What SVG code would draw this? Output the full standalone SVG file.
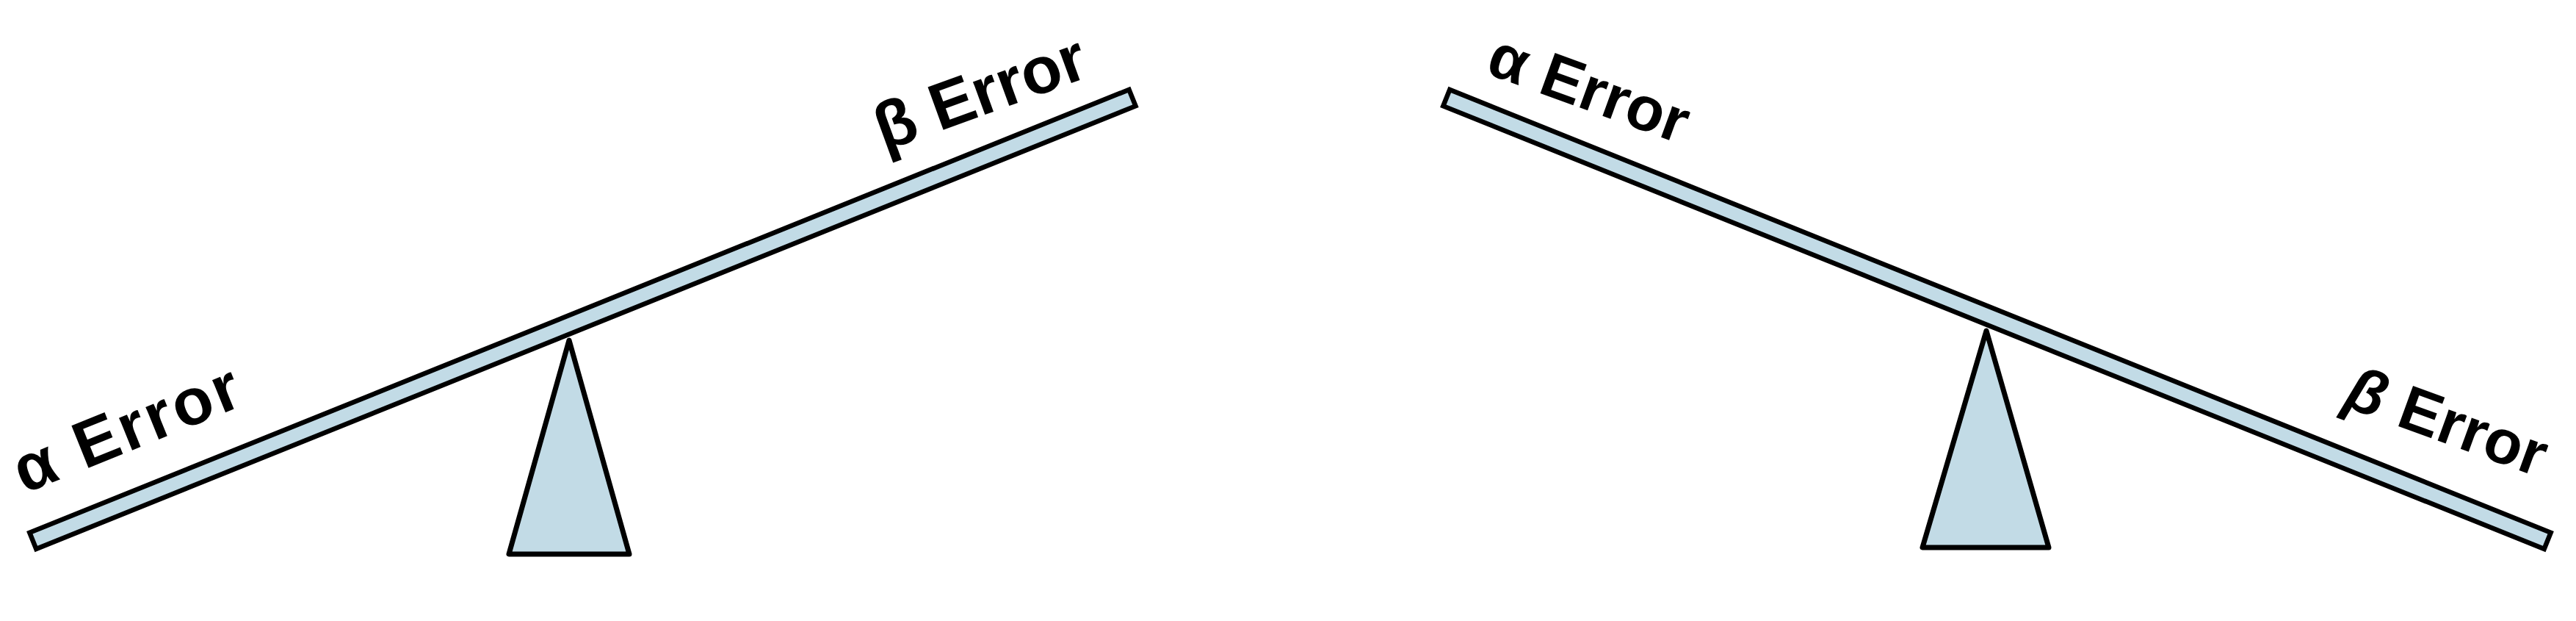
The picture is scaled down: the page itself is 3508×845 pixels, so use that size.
<svg xmlns="http://www.w3.org/2000/svg" width="3508" height="845" viewBox="0 0 3508 845">
  <style>
    .beam { fill: #C2DBE6; stroke: #000; stroke-width: 6.5; stroke-linejoin: miter; }
    .fulcrum { fill: #C2DBE6; stroke: #000; stroke-width: 7; stroke-linejoin: round; }
    .label { font-family: "Liberation Sans", Arial, sans-serif; font-weight: bold; fill: #000; }
    .big { font-size: 90px; }
    .small { font-size: 85px; }
  </style>
  <rect width="3508" height="845" fill="#fff"/>
  <g id="left-seesaw">
    <g id="left-beam">
      <rect class="beam" transform="translate(42,737) rotate(-21.93)" x="3" y="-12" width="1614" height="24"/>
    </g>
    <g id="left-fulcrum">
      <polygon class="fulcrum" points="775,463 693,754 857,754"/>
    </g>
    <g id="left-alpha-label">
      <text class="label big" letter-spacing="4" transform="translate(33,672) rotate(-22)">α Error</text>
    </g>
    <g id="left-beta-label">
      <text class="label big" transform="translate(1204,206) rotate(-20)">β Error</text>
    </g>
  </g>
  <g id="right-seesaw">
    <g id="right-beam">
      <rect class="beam" transform="translate(1967,132) rotate(21.9)" x="3" y="-12" width="1616" height="24"/>
    </g>
    <g id="right-fulcrum">
      <polygon class="fulcrum" points="2705,450 2618,745 2790,745"/>
    </g>
    <g id="right-alpha-label">
      <text class="label small" transform="translate(2021,99) rotate(20)">α Error</text>
    </g>
    <g id="right-beta-label">
      <text class="label small" transform="translate(3189,552) rotate(20)"><tspan font-style="italic">β</tspan> Error</text>
    </g>
  </g>
  <g id="connectors"/>
</svg>
